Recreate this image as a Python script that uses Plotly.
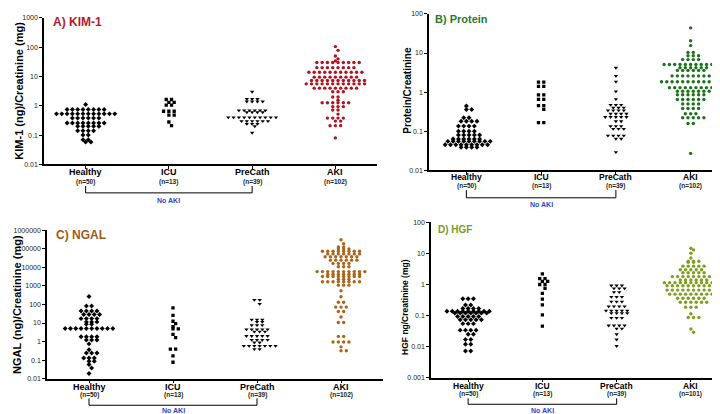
import numpy as np
import plotly.graph_objects as go

W, H = 720, 414
FONT = "Arial, Liberation Sans, sans-serif"

GROUPS = ["Healthy", "ICU", "PreCath", "AKI"]
SYMBOLS = ["diamond", "square", "triangle-down", "circle"]
SIZES = [3.8, 3.3, 3.8, 3.4]

# every dot plot is given as row levels (_V) and how many dots sit on each row (_C)

# A) KIM-1
KIM_N = [50, 13, 39, 102]
KIM_HEALTHY_V = [1.11, 0.75, 0.53, 0.38, 0.26, 0.2, 0.14, 0.1, 0.069, 0.058]
KIM_HEALTHY_C = [1, 8, 12, 6, 8, 5, 4, 2, 2, 2]
KIM_ICU_V = [1.64, 1.3, 1.05, 0.65, 0.48, 0.28, 0.21]
KIM_ICU_C = [2, 2, 2, 3, 2, 1, 1]
KIM_PRECATH_V = [3.0, 1.7, 1.4, 0.7, 0.6, 0.4, 0.3, 0.24, 0.2, 0.12]
KIM_PRECATH_C = [1, 3, 4, 6, 4, 10, 6, 3, 1, 1]
KIM_AKI_V = [105, 78, 50, 40, 34, 30, 20, 14, 9.5, 7.3, 5.6, 4.0, 3.0, 2.0, 1.56,
             1.27, 0.94, 0.72, 0.52, 0.38, 0.3, 0.21, 0.08]
KIM_AKI_C = [1, 1, 1, 1, 1, 9, 8, 11, 9, 11, 12, 9, 3, 2, 1, 6, 3, 2, 1, 4, 2, 3, 1]
KIM_TICKS = [0.01, 0.1, 1, 10, 100, 1000]

# B) Protein
PROT_N = [50, 13, 39, 102]
PROT_HEALTHY_V = [0.44, 0.36, 0.22, 0.18, 0.135, 0.1, 0.08, 0.063, 0.055, 0.045, 0.039]
PROT_HEALTHY_C = [1, 2, 2, 4, 4, 4, 5, 6, 9, 9, 4]
PROT_ICU_V = [1.8, 1.4, 0.85, 0.65, 0.45, 0.36, 0.165]
PROT_ICU_C = [2, 2, 2, 2, 2, 1, 2]
PROT_PRECATH_V = [4.2, 2.6, 1.86, 1.04, 0.66, 0.47, 0.4, 0.34, 0.28, 0.23, 0.18, 0.135,
                  0.115, 0.077, 0.064, 0.029]
PROT_PRECATH_C = [1, 1, 1, 1, 1, 3, 3, 4, 4, 5, 2, 3, 3, 4, 2, 1]
PROT_AKI_V = [44, 20.7, 15.5, 10.4, 8.5, 6.8, 5.1, 4.2, 3.6, 2.6, 1.85, 1.3, 1.05, 0.86,
              0.65, 0.5, 0.38, 0.28, 0.22, 0.158, 0.027]
PROT_AKI_C = [1, 1, 1, 2, 3, 4, 11, 6, 6, 8, 12, 9, 7, 6, 6, 4, 4, 3, 5, 2, 1]
PROT_TICKS = [0.01, 0.1, 1, 10, 100]

# C) NGAL
NGAL_N = [50, 13, 39, 102]
NGAL_HEALTHY_V = [266, 82, 44, 28.5, 17.3, 11.5, 8.7, 5.1, 1.84, 1.23, 0.75, 0.36, 0.24,
                  0.13, 0.087, 0.058, 0.038, 0.019]
NGAL_HEALTHY_C = [1, 2, 4, 4, 4, 3, 2, 10, 4, 3, 1, 1, 3, 3, 2, 1, 1, 1]
NGAL_ICU_V = [66, 26, 12.5, 9.4, 6.3, 4.9, 2.46, 1.63, 0.39, 0.17, 0.077]
NGAL_ICU_C = [1, 1, 1, 1, 1, 2, 1, 1, 2, 1, 1]
NGAL_PRECATH_V = [177, 108, 15.3, 11.5, 7.7, 4.5, 3.4, 2.0, 1.23, 0.89, 0.59, 0.39]
NGAL_PRECATH_C = [2, 1, 3, 2, 3, 5, 3, 5, 4, 2, 7, 2]
NGAL_AKI_V = [307000, 186000, 126000, 98000, 74000, 53000, 37000, 24500, 16300, 10800,
              5900, 4250, 3200, 2300, 1670, 1100, 550, 263, 132, 72, 42, 21, 10.7, 1.9,
              0.95, 0.52, 0.32]
NGAL_AKI_C = [1, 1, 2, 3, 8, 7, 7, 6, 4, 3, 10, 7, 8, 3, 8, 3, 1, 1, 2, 3, 2, 1, 2, 2, 4, 1, 2]
NGAL_TICKS = [0.01, 0.1, 1, 10, 100, 1000, 10000, 100000, 1000000]

# D) HGF
HGF_N = [50, 13, 39, 101]
HGF_HEALTHY_V = [0.35, 0.22, 0.17, 0.137, 0.12, 0.093, 0.073, 0.055, 0.034, 0.025, 0.017,
                 0.012, 0.0072]
HGF_HEALTHY_C = [3, 2, 4, 9, 7, 5, 5, 3, 4, 2, 2, 2, 2]
HGF_ICU_V = [2.2, 1.55, 1.26, 1.0, 0.75, 0.52, 0.34, 0.22, 0.105, 0.046]
HGF_ICU_C = [1, 2, 2, 2, 1, 1, 1, 1, 1, 1]
HGF_PRECATH_V = [0.93, 0.75, 0.57, 0.4, 0.28, 0.197, 0.144, 0.12, 0.084, 0.048, 0.038,
                 0.025, 0.017, 0.0105]
HGF_PRECATH_C = [3, 3, 2, 3, 3, 4, 5, 4, 3, 4, 2, 1, 1, 1]
HGF_AKI_V = [14.7, 13, 10.2, 7.1, 5.6, 5.2, 3.9, 3.0, 2.4, 1.8, 1.4, 1.15, 0.91, 0.66, 0.49,
             0.36, 0.27, 0.187, 0.115, 0.087, 0.037, 0.029]
HGF_AKI_C = [1, 1, 1, 1, 3, 2, 5, 5, 5, 8, 6, 11, 11, 10, 10, 6, 6, 3, 1, 3, 1, 1]
HGF_TICKS = [0.001, 0.01, 0.1, 1, 10, 100]


PANELS = [
    dict(box=(36, 369, 6, 155), yr=(-2, 3), ticks=KIM_TICKS, n=KIM_N,
         data=[(KIM_HEALTHY_V, KIM_HEALTHY_C), (KIM_ICU_V, KIM_ICU_C),
               (KIM_PRECATH_V, KIM_PRECATH_C), (KIM_AKI_V, KIM_AKI_C)],
         title="A) KIM-1", tcolor="#b01c2c", dot="#b3121f", tpos=(43, 10), tsize=12,
         ytitle="KIM-1 (ng)/Creatinine (mg)", ypos=(11, 80), ysize=11,
         cat_y=163, cat_size=9, n_y=173, brk=(177, 184), noaki_y=192),
    dict(box=(421, 720, 2, 161), yr=(-2, 2), ticks=PROT_TICKS, n=PROT_N,
         data=[(PROT_HEALTHY_V, PROT_HEALTHY_C), (PROT_ICU_V, PROT_ICU_C),
               (PROT_PRECATH_V, PROT_PRECATH_C), (PROT_AKI_V, PROT_AKI_C)],
         title="B) Protein", tcolor="#2b7a2b", dot="#1c731c", tpos=(425, 7), tsize=11,
         ytitle="Protein/Creatinine", ypos=(400, 80), ysize=10,
         cat_y=168, cat_size=8.5, n_y=177, brk=(181, 189), noaki_y=196),
    dict(box=(39, 375, 222, 373), yr=(-2, 6), ticks=NGAL_TICKS, n=NGAL_N,
         data=[(NGAL_HEALTHY_V, NGAL_HEALTHY_C), (NGAL_ICU_V, NGAL_ICU_C),
               (NGAL_PRECATH_V, NGAL_PRECATH_C), (NGAL_AKI_V, NGAL_AKI_C)],
         title="C) NGAL", tcolor="#a2581b", dot="#ad641d", tpos=(46, 227), tsize=12,
         ytitle="NGAL (ng)/Creatinine (mg)", ypos=(9, 298), ysize=11,
         cat_y=381, cat_size=9, n_y=390, brk=(393, 400), noaki_y=405),
    dict(box=(423, 720, 214, 372), yr=(-3, 2), ticks=HGF_TICKS, n=HGF_N,
         data=[(HGF_HEALTHY_V, HGF_HEALTHY_C), (HGF_ICU_V, HGF_ICU_C),
               (HGF_PRECATH_V, HGF_PRECATH_C), (HGF_AKI_V, HGF_AKI_C)],
         title="D) HGF", tcolor="#7b9a22", dot="#7f9e1e", tpos=(428, 221), tsize=10,
         ytitle="HGF ng/Creatinine (mg)", ypos=(397, 300), ysize=8.5,
         cat_y=380, cat_size=8.5, n_y=389, brk=(393, 399), noaki_y=405),
]


def swarm(levels, counts, px_dec, band_px, gap=5.3):
    """Prism-like dot rows: each row centred on the category, close rows staggered."""
    dx = gap / band_px
    xs, ys = [], []
    prev_y, prev_shift = None, 0.0
    for v, n in zip(levels, counts):
        y_px = np.log10(v) * px_dec
        shift = 0.0
        if prev_y is not None and abs(prev_y - y_px) < gap * 0.8 and prev_shift == 0.0:
            shift = dx / 2
        xs.extend((np.arange(n) - (n - 1) / 2) * dx + shift)
        ys.extend([v] * n)
        prev_y, prev_shift = y_px, shift
    return np.array(xs), ys


def tick_text(v):
    return f"{v:g}" if v < 1 else f"{int(v)}"


def py(y):
    return 1 - y / H


fig = go.Figure()
annotations, shapes, axes = [], [], {}

for i, p in enumerate(PANELS):
    sfx = "" if i == 0 else str(i + 1)
    xr, yr_ = "x" + sfx, "y" + sfx
    x0, x1, y0, y1 = p["box"]
    band = (x1 - x0) / 4
    px_dec = (y1 - y0) / (p["yr"][1] - p["yr"][0])

    for g, (lv, ct) in enumerate(p["data"]):
        off, vals = swarm(lv, ct, px_dec, band)
        fig.add_trace(go.Scatter(
            x=g + off, y=vals, mode="markers", xaxis=xr, yaxis=yr_,
            marker={"symbol": SYMBOLS[g], "size": SIZES[g],
                    "color": p["dot"] if g == 3 else "black", "line": {"width": 0}},
            name=GROUPS[g], showlegend=False,
        ))

    axes["xaxis" + sfx] = dict(
        domain=[x0 / W, min(x1 / W, 1.0)], anchor=yr_, range=[-0.5, 3.5],
        showline=True, linecolor="black", linewidth=1.5, ticks="outside",
        ticklen=3, tickwidth=1, tickcolor="black", tickvals=[0, 1, 2, 3],
        showticklabels=False, showgrid=False, zeroline=False, fixedrange=True,
    )
    axes["yaxis" + sfx] = dict(
        domain=[py(y1), py(y0)], anchor=xr, type="log", range=list(p["yr"]),
        showline=True, linecolor="black", linewidth=1.5, ticks="outside",
        ticklen=3, tickwidth=1, tickcolor="black", tickvals=p["ticks"],
        ticktext=[tick_text(t) for t in p["ticks"]],
        tickfont={"size": 7, "color": "#222", "family": FONT},
        showgrid=False, zeroline=False, fixedrange=True,
    )

    annotations.append(dict(
        text=f"<b>{p['title']}</b>", xref="paper", yref="paper",
        x=p["tpos"][0] / W, y=py(p["tpos"][1]), xanchor="left", yanchor="middle",
        showarrow=False, font={"size": p["tsize"], "color": p["tcolor"], "family": FONT},
    ))
    annotations.append(dict(
        text=f"<b>{p['ytitle']}</b>", xref="paper", yref="paper", textangle=-90,
        x=p["ypos"][0] / W, y=py(p["ypos"][1]), xanchor="center", yanchor="middle",
        showarrow=False, font={"size": p["ysize"], "color": "black", "family": FONT},
    ))
    for g, name in enumerate(GROUPS):
        annotations.append(dict(
            text=f"<b>{name}</b>", xref=xr, yref="paper", x=g, y=py(p["cat_y"]),
            xanchor="center", yanchor="middle", showarrow=False,
            font={"size": p["cat_size"], "color": "black", "family": FONT},
        ))
        annotations.append(dict(
            text=f"<b>(n={p['n'][g]})</b>", xref=xr, yref="paper", x=g, y=py(p["n_y"]),
            xanchor="center", yanchor="middle", showarrow=False,
            font={"size": 6.5, "color": "#222", "family": FONT},
        ))

    b_top, b_bot = py(p["brk"][0]), py(p["brk"][1])
    shapes.append(dict(
        type="path", xref=xr, yref="paper",
        path=f"M 0,{b_top} L 0,{b_bot} L 2,{b_bot} L 2,{b_top}",
        line={"color": "black", "width": 1},
    ))
    annotations.append(dict(
        text="<b>No AKI</b>", xref=xr, yref="paper", x=1, y=py(p["noaki_y"]),
        xanchor="center", yanchor="middle", showarrow=False, borderpad=0,
        font={"size": 7, "color": "#2f3fd0", "family": FONT},
    ))

fig.update_layout(
    width=W, height=H, margin={"l": 0, "r": 0, "t": 0, "b": 0},
    paper_bgcolor="white", plot_bgcolor="white",
    font={"family": FONT, "color": "black"},
    annotations=annotations, shapes=shapes, showlegend=False,
    **axes,
)

fig.write_html("out.html")
